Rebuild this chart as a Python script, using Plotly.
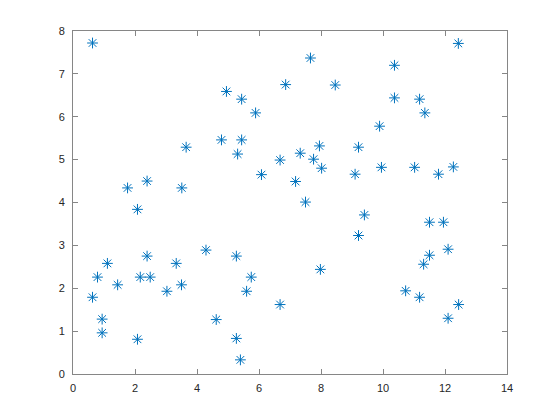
import plotly.graph_objects as go

x_vals = [0.63, 1.76, 2.39, 3.51, 3.65, 2.08, 4.29, 2.39, 1.11, 3.33, 0.79, 2.17, 2.49, 1.44, 3.50, 3.03, 0.63, 0.94, 0.94, 2.08,
          7.66, 6.86, 8.46, 4.95, 5.44, 5.89, 4.79, 5.44, 5.31, 7.95, 7.33, 9.21, 6.68, 7.76, 8.02, 6.08, 9.10, 7.18, 7.50, 9.21,
          5.27, 7.98, 5.75, 5.60, 6.68, 4.62, 5.27, 5.40,
          12.43, 10.37, 10.37, 11.18, 11.35, 9.89, 9.95, 11.02, 11.79, 12.27, 9.40, 11.50, 11.95, 12.10, 11.50, 11.31, 10.73, 11.18, 12.44, 12.10]
y_vals = [7.72, 4.34, 4.50, 4.34, 5.29, 3.84, 2.89, 2.75, 2.58, 2.58, 2.26, 2.26, 2.26, 2.08, 2.08, 1.93, 1.79, 1.28, 0.96, 0.81,
          7.37, 6.75, 6.74, 6.59, 6.41, 6.09, 5.46, 5.46, 5.13, 5.32, 5.15, 5.29, 4.99, 5.01, 4.80, 4.65, 4.66, 4.49, 4.01, 3.23,
          2.75, 2.44, 2.26, 1.93, 1.62, 1.27, 0.83, 0.33,
          7.71, 7.20, 6.44, 6.41, 6.09, 5.78, 4.82, 4.82, 4.66, 4.83, 3.71, 3.54, 3.54, 2.91, 2.77, 2.56, 1.94, 1.79, 1.62, 1.30]

x_ticks = [0, 2, 4, 6, 8, 10, 12, 14]
y_ticks = [0, 1, 2, 3, 4, 5, 6, 7, 8]

fig = go.Figure(go.Scatter(
    x=x_vals, y=y_vals, mode="markers",
    marker=dict(symbol="asterisk-open", size=9, color="#0072BD", line=dict(color="#0072BD", width=1)),
))

axis_common = dict(
    showgrid=False, zeroline=False, showline=True, linecolor="#868686", linewidth=1,
    mirror="ticks", ticks="inside", ticklen=5, tickcolor="#868686", tickwidth=1,
    tickfont=dict(family="Liberation Sans, Arial, sans-serif", size=11, color="#262626"),
)

fig.update_xaxes(range=[0, 14], tickvals=x_ticks, ticklabelstandoff=4, **axis_common)
fig.update_yaxes(range=[0, 8], tickvals=y_ticks, ticklabelstandoff=5, **axis_common)

fig.update_layout(
    width=552, height=412,
    margin=dict(l=65, r=53, t=23, b=46),
    paper_bgcolor="white", plot_bgcolor="white",
    showlegend=False,
)

fig.write_html("out.html")
